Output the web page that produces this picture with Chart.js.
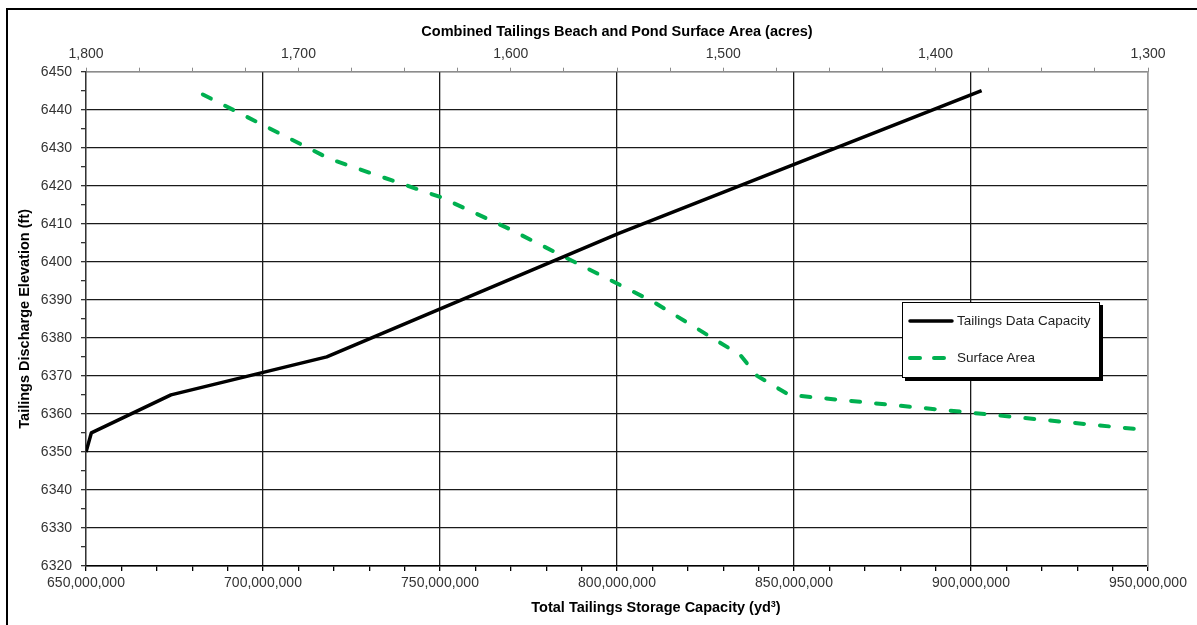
<!DOCTYPE html>
<html>
<head>
<meta charset="utf-8">
<script src="https://cdn.jsdelivr.net/npm/chart.js@4.4.1/dist/chart.umd.min.js"></script>
<style>
  html, body { margin: 0; padding: 0; background: #fff; }
  #wrap { position: relative; width: 1197px; height: 625px; overflow: hidden; font-family: "Liberation Sans", Arial, sans-serif; }
  #frame { position: absolute; left: 6px; top: 8px; width: 1300px; height: 700px; border-left: 2px solid #000; border-top: 2px solid #000; }
  #chart { position: absolute; left: 0; top: 0; }
  #xTitle { position: absolute; left: 656px; top: 598px; transform: translateX(-50%); white-space: nowrap;
            font-weight: bold; font-size: 14.5px; line-height: 18px; color: #000; }
  #xTitle sup { font-size: 9px; vertical-align: 5px; line-height: 0; }
  #legend { position: absolute; left: 902px; top: 302px; width: 196px; height: 74px; background: #fff;
            border: 1px solid #000; box-shadow: 3px 3px 0 #000; }
  #legend .row { position: absolute; left: 4px; height: 20px; }
  #legend svg { position: absolute; left: 0; top: 6px; }
  #legend span { position: absolute; left: 50px; top: 1px; font-size: 13.5px; line-height: 18px; color: #222; white-space: nowrap; }
</style>
</head>
<body>
<div id="wrap">
  <div id="frame"></div>
  <canvas id="chart" width="1197" height="625"></canvas>
  <div id="xTitle">Total Tailings Storage Capacity (yd<sup>3</sup>)</div>
  <div id="legend">
    <div class="row" style="top:8px">
      <svg width="48" height="8"><line x1="3" y1="4" x2="45" y2="4" stroke="#000" stroke-width="3.5" stroke-linecap="round"/></svg>
      <span>Tailings Data Capacity</span>
    </div>
    <div class="row" style="top:45px">
      <svg width="48" height="8"><line x1="3" y1="4" x2="45" y2="4" stroke="#00b050" stroke-width="4" stroke-linecap="round" stroke-dasharray="10 14"/></svg>
      <span>Surface Area</span>
    </div>
  </div>
</div>
<script>
// Tailings Data Capacity (bottom axis, yd3) vs elevation (ft)
const capacityVol = [650.0e6, 651.5e6, 674e6, 718e6, 800.5e6, 903e6];
const capacityElev = [6350, 6355, 6365, 6375, 6407.5, 6445];

// Surface Area (top axis, acres) vs elevation (ft)
const areaAcres = [1745, 1685, 1633, 1602, 1533, 1492, 1484, 1469, 1383, 1300];
const areaElev = [6444, 6427, 6417, 6409, 6389.5, 6375.5, 6370, 6365, 6360.3, 6355.7];

// axis ranges
const volMin = 650e6, volMax = 950e6;
const acresMin = 1300, acresMax = 1800;
const elevMin = 6320, elevMax = 6450;

const fmt = v => Number(v).toLocaleString('en-US');
const clear = 'rgba(0,0,0,0)';

Chart.defaults.font.family = '"Liberation Sans", Arial, sans-serif';

const ctx = document.getElementById('chart').getContext('2d');
new Chart(ctx, {
    type: 'scatter',
    data: {
        datasets: [{
            label: 'Tailings Data Capacity',
            data: capacityVol.map((v, i) => ({ x: v, y: capacityElev[i] })),
            xAxisID: 'x',
            yAxisID: 'y',
            showLine: true,
            borderColor: '#000',
            borderWidth: 3.5,
            borderJoinStyle: 'round',
            pointRadius: 0
        }, {
            label: 'Surface Area',
            data: areaAcres.map((a, i) => ({ x: a, y: areaElev[i] })),
            xAxisID: 'x2',
            yAxisID: 'y',
            showLine: true,
            borderColor: '#00b050',
            borderWidth: 4,
            borderDash: [9, 16],
            borderCapStyle: 'round',
            borderJoinStyle: 'round',
            pointRadius: 0
        }]
    },
    options: {
        responsive: false,
        animation: false,
        layout: { padding: 0 },
        plugins: { legend: { display: false }, tooltip: { enabled: false } },
        scales: {
            x: {
                type: 'linear', position: 'bottom', min: volMin, max: volMax,
                ticks: {
                    stepSize: 10e6, autoSkip: false, maxRotation: 0, padding: 4,
                    color: '#333', font: { size: 14 },
                    callback: v => v % 50e6 === 0 ? fmt(v) : ''
                },
                grid: {
                    color: c => c.tick && c.tick.value % 50e6 === 0 ? '#1a1a1a' : clear,
                    lineWidth: 1.3, tickColor: '#000', tickLength: 5
                },
                border: { color: '#000', width: 1.5 },
                afterFit: s => { s.height = 59; }
            },
            x2: {
                type: 'linear', position: 'top', reverse: true, min: acresMin, max: acresMax,
                ticks: {
                    stepSize: 25, autoSkip: false, maxRotation: 0, padding: 5,
                    color: '#333', font: { size: 14 },
                    callback: v => v % 100 === 0 ? fmt(v) : ''
                },
                grid: { drawOnChartArea: false, tickColor: '#8c8c8c', tickLength: 4 },
                border: { color: '#8c8c8c', width: 1.3 },
                title: {
                    display: true, text: 'Combined Tailings Beach and Pond Surface Area (acres)',
                    color: '#000', font: { size: 14.5, weight: 'bold' }, padding: { top: 23, bottom: 0 }
                },
                afterFit: s => { s.height = 71.7; }
            },
            y: {
                type: 'linear', position: 'left', min: elevMin, max: elevMax,
                ticks: {
                    stepSize: 5, autoSkip: false, padding: 9,
                    color: '#333', font: { size: 14 },
                    callback: v => v % 10 === 0 ? String(v) : ''
                },
                grid: {
                    color: c => c.tick && c.tick.value % 10 === 0 ? '#1a1a1a' : clear,
                    lineWidth: 1.3, tickColor: '#333', tickLength: 5
                },
                border: { color: '#333', width: 1.3 },
                title: {
                    display: true, text: 'Tailings Discharge Elevation (ft)',
                    color: '#000', font: { size: 14.5, weight: 'bold' }, padding: { top: 16, bottom: 0 }
                },
                afterFit: s => { s.width = 86; }
            },
            y2: {
                type: 'linear', position: 'right', min: elevMin, max: elevMax,
                ticks: { display: false },
                grid: { drawOnChartArea: false, drawTicks: false },
                border: { color: '#999', width: 1.3 },
                afterFit: s => { s.width = 49; }
            }
        }
    }
});
</script>
</body>
</html>
